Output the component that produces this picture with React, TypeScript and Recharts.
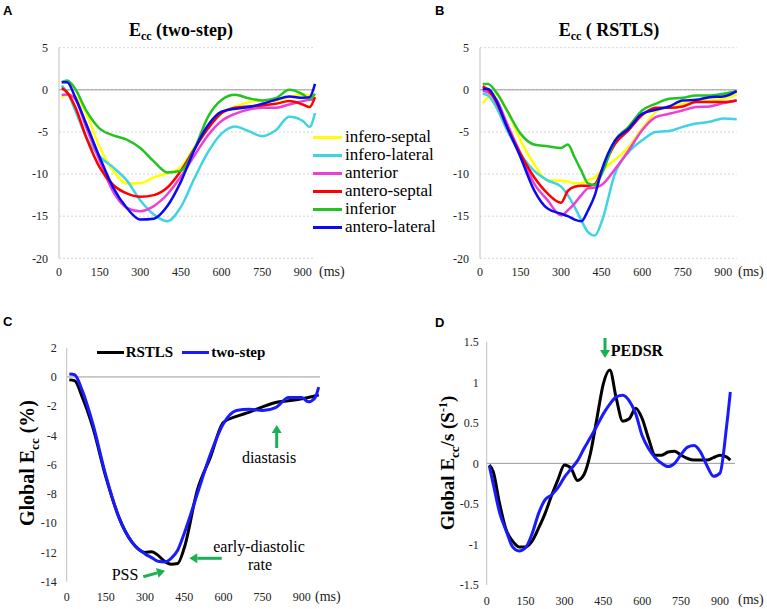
import { LineChart, Line, XAxis, YAxis, CartesianGrid, ReferenceLine, Legend } from 'recharts';

const SERIF = '"Liberation Serif", "Times New Roman", serif';
const SANS = '"Liberation Sans", Arial, sans-serif';
const GREEN_ARROW = '#1bb055';

const MS_TICKS = [0, 150, 300, 450, 600, 750, 900];
const STRAIN_TICKS = [-20, -15, -10, -5, 0, 5];
const GLOBAL_TICKS = [-14, -12, -10, -8, -6, -4, -2, 0, 2];
const RATE_TICKS = [-1.5, -1, -0.5, 0, 0.5, 1, 1.5];

const SEGMENTS = ['infero-septal', 'infero-lateral', 'anterior', 'antero-septal', 'inferior', 'antero-lateral'];
const SEGMENT_COLORS = ['#ffff00', '#3fd3e6', '#ec3fd6', '#ff0000', '#22c322', '#0a0af0'];
const METHODS = ['RSTLS', 'two-step'];
const METHOD_COLORS = ['#000000', '#1a1aff'];

// panel A: two-step, segmental Ecc (%)
const TIME_A = [10, 30, 60, 100, 150, 200, 250, 300, 350, 400, 450, 500, 550, 600, 650, 700, 750, 800, 850, 900, 925, 945];
const A_INFERO_SEPTAL = [-0.9, -0.6, -0.8, -2.8, -6.8, -9.6, -11.1, -11.1, -10.4, -9.9, -9.2, -6.8, -4.4, -2.85, -2.0, -1.46, -1.26, -1.26, -0.87, -0.55, -0.67, -0.87];
const A_INFERO_LATERAL = [0.5, -0.28, -2.45, -5.6, -7.9, -9.2, -10.75, -13.1, -14.8, -15.6, -13.9, -10.5, -7.4, -5.2, -4.35, -4.9, -5.5, -4.8, -3.2, -3.7, -4.4, -2.75];
const A_ANTERIOR = [-0.6, -0.55, -1.1, -4.4, -8.4, -12.1, -14.0, -14.4, -13.8, -12.4, -10.3, -7.8, -5.4, -3.7, -2.85, -2.33, -2.13, -2.13, -1.74, -1.34, -1.19, -1.1];
const A_ANTERO_SEPTAL = [0.2, -0.3, -2.05, -5.6, -9.2, -11.3, -12.3, -12.7, -12.5, -11.6, -9.6, -7.0, -4.6, -2.75, -2.13, -1.98, -1.86, -1.66, -1.34, -1.74, -2.05, -0.87];
const A_INFERIOR = [0.9, 1.1, 0.1, -2.45, -4.6, -5.4, -5.9, -6.9, -8.5, -9.8, -9.6, -7.0, -3.2, -1.2, -0.6, -1.0, -1.26, -1.0, 0, -0.55, -1.07, -0.47];
const A_ANTERO_LATERAL = [0.9, 0.9, -0.9, -4.0, -8.0, -11.6, -14.0, -15.4, -15.3, -13.8, -10.9, -7.1, -4.2, -2.6, -2.25, -2.05, -1.66, -1.19, -0.8, -0.95, -0.87, 0.7];

// panel B: RSTLS, segmental Ecc (%)
const TIME_B = [10, 30, 60, 100, 150, 200, 250, 300, 325, 350, 375, 400, 425, 450, 500, 550, 600, 650, 700, 750, 800, 850, 900, 950];
const B_INFERO_SEPTAL = [-1.6, -0.9, -0.5, -2.5, -6.0, -8.8, -10.75, -10.8, -10.9, -11.1, -11.1, -10.75, -10.4, -9.6, -8.3, -6.8, -4.6, -2.65, -1.98, -1.66, -1.38, -1.26, -1.07, -0.55];
const B_INFERO_LATERAL = [-0.47, -0.67, -2.05, -4.8, -7.6, -9.6, -10.75, -11.5, -12.5, -13.9, -15.5, -16.9, -17.3, -15.7, -9.9, -7.4, -6.0, -5.0, -4.9, -4.4, -4.0, -3.8, -3.4, -3.5];
const B_ANTERIOR = [-0.1, -0.3, -1.1, -4.0, -7.6, -11.1, -13.1, -14.9, -14.3, -13.5, -12.5, -11.7, -11.6, -11.3, -9.4, -7.2, -4.8, -3.25, -2.85, -2.45, -2.05, -1.98, -1.58, -1.26];
const B_ANTERO_SEPTAL = [0.4, 0, -1.46, -4.4, -7.6, -10.35, -12.3, -13.4, -12.0, -11.5, -11.4, -11.4, -11.2, -9.6, -6.4, -4.8, -3.0, -2.13, -2.13, -1.98, -1.46, -1.46, -1.46, -1.26];
const B_INFERIOR = [0.7, 0.7, -0.3, -2.45, -5.2, -6.5, -6.7, -6.9, -6.5, -8.0, -9.6, -11.1, -11.3, -10.0, -6.0, -4.4, -2.45, -1.66, -1.07, -0.95, -0.67, -0.67, -0.47, -0.16];
const B_ANTERO_LATERAL = [0.1, 0.1, -1.26, -4.4, -8.0, -11.9, -14.1, -14.7, -15.0, -15.4, -15.6, -14.3, -12.5, -9.6, -6.0, -4.6, -2.85, -2.37, -1.98, -1.26, -1.19, -0.87, -0.8, -0.16];

// panel C: global Ecc (%)
const TIME_C = [10, 30, 60, 100, 150, 200, 250, 300, 325, 350, 375, 400, 425, 450, 500, 550, 600, 650, 700, 750, 800, 850, 900, 925, 950, 965];
const C_RSTLS = [-0.2, -0.25, -1.4, -3.45, -6.85, -9.6, -11.3, -12.0, -11.95, -12.2, -12.6, -12.8, -12.75, -11.7, -7.75, -5.5, -3.1, -2.7, -2.4, -2.05, -1.75, -1.63, -1.5, -1.4, -1.3, -1.22];
const C_TWO_STEP = [0.2, 0.15, -0.95, -3.2, -6.75, -9.6, -11.3, -12.1, -12.35, -12.6, -12.65, -12.4, -11.85, -10.7, -8.0, -5.3, -3.2, -2.3, -2.2, -2.3, -2.1, -1.4, -1.4, -1.7, -1.45, -0.7];

// panel D: global Ecc strain rate (1/s)
const TIME_D = [10, 25, 50, 75, 100, 125, 150, 175, 200, 225, 250, 275, 300, 325, 350, 375, 400, 425, 450, 475, 500, 525, 550, 575, 600, 625, 650, 675, 700, 725, 750, 775, 800, 825, 850, 875, 900, 925, 940];
const D_RSTLS = [-0.02, -0.1, -0.5, -0.82, -0.96, -1.03, -1.03, -0.96, -0.8, -0.62, -0.4, -0.2, -0.02, -0.06, -0.21, -0.14, 0.12, 0.55, 0.98, 1.15, 0.8, 0.52, 0.55, 0.68, 0.55, 0.3, 0.1, 0.1, 0.14, 0.15, 0.1, 0.06, 0.04, 0.04, 0.04, 0.07, 0.1, 0.08, 0.04];
const D_TWO_STEP = [-0.03, -0.25, -0.61, -0.83, -1.03, -1.08, -1.04, -0.87, -0.62, -0.45, -0.39, -0.3, -0.17, -0.07, 0.03, 0.18, 0.32, 0.46, 0.61, 0.73, 0.82, 0.84, 0.77, 0.61, 0.34, 0.18, 0.07, 0, -0.04, 0, 0.11, 0.2, 0.22, 0.14, -0.03, -0.16, -0.12, 0.44, 0.88];

const rowsOf = (times: number[], cols: number[][]) =>
  times.map((t, i) => {
    const row: any = { ms: t };
    cols.forEach((c, j) => { row[`s${j}`] = c[i]; });
    return row;
  });

const dataA = rowsOf(TIME_A, [A_INFERO_SEPTAL, A_INFERO_LATERAL, A_ANTERIOR, A_ANTERO_SEPTAL, A_INFERIOR, A_ANTERO_LATERAL]);
const dataB = rowsOf(TIME_B, [B_INFERO_SEPTAL, B_INFERO_LATERAL, B_ANTERIOR, B_ANTERO_SEPTAL, B_INFERIOR, B_ANTERO_LATERAL]);
const dataC = rowsOf(TIME_C, [C_RSTLS, C_TWO_STEP]);
const dataD = rowsOf(TIME_D, [D_RSTLS, D_TWO_STEP]);

const tickStyle = { fontFamily: SERIF, fontSize: 12, fill: '#222' };

// legends keep the series order (recharts sorts payload by name otherwise)
const renderSegmentLegend = () => (
  <div style={{ fontFamily: SERIF, fontSize: 17, color: '#000' }}>
    {SEGMENTS.map((name, i) => (
      <div key={name} style={{ display: 'flex', alignItems: 'center', height: 18, whiteSpace: 'nowrap' }}>
        <span style={{ display: 'inline-block', width: 29, height: 3, background: SEGMENT_COLORS[i], marginRight: 3 }} />
        <span style={{ lineHeight: '18px' }}>{name}</span>
      </div>
    ))}
  </div>
);

const renderGlobalLegend = () => (
  <div style={{ display: 'flex', fontFamily: SERIF, fontSize: 15, fontWeight: 'bold', color: '#000' }}>
    {METHODS.map((name, i) => (
      <div key={name} style={{ display: 'flex', alignItems: 'center', height: 18, marginRight: 9, whiteSpace: 'nowrap' }}>
        <span style={{ display: 'inline-block', width: 27, height: 3, background: METHOD_COLORS[i], marginRight: 2 }} />
        <span style={{ lineHeight: '18px' }}>{name}</span>
      </div>
    ))}
  </div>
);

function Arrow({ x1, y1, x2, y2 }: { x1: number; y1: number; x2: number; y2: number }) {
  const len = Math.hypot(x2 - x1, y2 - y1);
  const ux = (x2 - x1) / len;
  const uy = (y2 - y1) / len;
  const bx = x2 - ux * 8;
  const by = y2 - uy * 8;
  return (
    <g>
      <line x1={x1} y1={y1} x2={bx} y2={by} stroke={GREEN_ARROW} strokeWidth={3} />
      <polygon points={`${x2},${y2} ${bx - uy * 5},${by + ux * 5} ${bx + uy * 5},${by - ux * 5}`} fill={GREEN_ARROW} />
    </g>
  );
}

function SegmentPanel({ data, maxMs, margin, legend }: any) {
  return (
    <LineChart width={legend ? 450 : 387} height={290} data={data} margin={margin}>
      <CartesianGrid vertical={false} stroke="#d4d4d4" strokeDasharray="2 2" />
      <XAxis dataKey="ms" type="number" domain={[0, maxMs]} ticks={MS_TICKS} axisLine={false} tickLine={false} tick={tickStyle} tickMargin={3} height={25} />
      <YAxis type="number" domain={[-20, 5]} ticks={STRAIN_TICKS} axisLine={{ stroke: '#bfbfbf' }} tickLine={false} tick={tickStyle} tickMargin={5} width={40} />
      <ReferenceLine y={0} stroke="#999" strokeWidth={1} />
      {SEGMENTS.map((name, i) => (
        <Line key={name} type="monotone" dataKey={`s${i}`} name={name} stroke={SEGMENT_COLORS[i]} strokeWidth={2.5} dot={false} activeDot={false} isAnimationActive={false} />
      ))}
      {legend && (
        <Legend layout="horizontal" verticalAlign="middle" align="center" wrapperStyle={{ left: 313, top: 128, width: 140 }} content={renderSegmentLegend} />
      )}
    </LineChart>
  );
}

export default function App() {
  return (
    <div style={{ position: 'absolute', left: 0, top: 0, width: 767, height: 609, background: '#fff', fontFamily: SERIF }}>
      <div style={{ position: 'absolute', left: 0, top: 0 }}>
        <SegmentPanel data={dataA} maxMs={943} margin={{ top: 47.7, right: 135, bottom: 6.7, left: 19 }} legend />
      </div>
      <div style={{ position: 'absolute', left: 380, top: 0 }}>
        <SegmentPanel data={dataB} maxMs={950} margin={{ top: 47.7, right: 30.3, bottom: 6.7, left: 60 }} />
      </div>
      <div style={{ position: 'absolute', left: 0, top: 300 }}>
        <LineChart width={380} height={309} data={dataC} margin={{ top: 47.7, right: 60, bottom: 2.3, left: 26.7 }}>
          <XAxis dataKey="ms" type="number" domain={[0, 970]} ticks={MS_TICKS} axisLine={false} tickLine={false} tick={tickStyle} tickMargin={5} height={25} />
          <YAxis type="number" domain={[-14, 2]} ticks={GLOBAL_TICKS} axisLine={{ stroke: '#bfbfbf' }} tickLine={false} tick={tickStyle} tickMargin={4} width={40} />
          <ReferenceLine y={0} stroke="#999" strokeWidth={1} />
          {METHODS.map((name, i) => (
            <Line key={name} type="monotone" dataKey={`s${i}`} name={name} stroke={METHOD_COLORS[i]} strokeWidth={3} dot={false} activeDot={false} isAnimationActive={false} />
          ))}
          <Legend layout="horizontal" verticalAlign="middle" align="center" wrapperStyle={{ left: 96.7, top: 43, width: 200 }} content={renderGlobalLegend} />
        </LineChart>
      </div>
      <div style={{ position: 'absolute', left: 390, top: 300 }}>
        <LineChart width={377} height={309} data={dataD} margin={{ top: 41.7, right: 32, bottom: 4, left: 56.7 }}>
          <XAxis dataKey="ms" type="number" domain={[0, 958]} ticks={MS_TICKS} axisLine={false} tickLine={false} tick={tickStyle} tickMargin={5} height={20} />
          <YAxis type="number" domain={[-1.5, 1.5]} ticks={RATE_TICKS} axisLine={{ stroke: '#bfbfbf' }} tickLine={false} tick={tickStyle} tickMargin={2} width={40} />
          <ReferenceLine y={0} stroke="#999" strokeWidth={1} />
          {METHODS.map((name, i) => (
            <Line key={name} type="monotone" dataKey={`s${i}`} name={name} stroke={METHOD_COLORS[i]} strokeWidth={3} dot={false} activeDot={false} isAnimationActive={false} />
          ))}
        </LineChart>
      </div>

      <svg width={767} height={609} style={{ position: 'absolute', left: 0, top: 0, pointerEvents: 'none' }}>
        <g fontFamily={SANS} fontWeight="bold" fontSize={13} fill="#000">
          <text x={3} y={15}>A</text>
          <text x={435} y={15}>B</text>
          <text x={3} y={326}>C</text>
          <text x={435} y={327}>D</text>
        </g>
        <g fontFamily={SERIF} fontWeight="bold" fontSize={18} fill="#000" textAnchor="middle">
          <text x={181} y={36}>E<tspan fontSize={12} dy={4}>cc</tspan><tspan dy={-4}> (two-step)</tspan></text>
          <text x={609} y={36}>E<tspan fontSize={12} dy={4}>cc</tspan><tspan dy={-4}> ( RSTLS)</tspan></text>
        </g>
        <g fontFamily={SERIF} fontSize={14} fill="#222">
          <text x={319} y={276}>(ms)</text>
          <text x={738} y={276}>(ms)</text>
          <text x={315} y={601}>(ms)</text>
          <text x={738} y={604}>(ms)</text>
        </g>
        <g fontFamily={SERIF} fontWeight="bold" fill="#000" textAnchor="middle">
          <text x={34} y={463} fontSize={20} transform="rotate(-90, 34, 463)">
            Global E<tspan fontSize={13} dy={5}>cc</tspan><tspan dy={-5}>{'  (%)'}</tspan>
          </text>
          <text x={454} y={463} fontSize={19} transform="rotate(-90, 454, 463)">
            Global E<tspan fontSize={13} dy={5}>cc</tspan><tspan dy={-5}>/s (S</tspan><tspan fontSize={12} dy={-7}>-1</tspan><tspan dy={7}>)</tspan>
          </text>
        </g>
        <g fontFamily={SERIF} fontSize={16} fill="#000">
          <text x={269} y={463} textAnchor="middle">diastasis</text>
          <text x={259} y={552} textAnchor="middle">early-diastolic</text>
          <text x={260} y={570} textAnchor="middle">rate</text>
          <text x={111.7} y={580}>PSS</text>
          <text x={610.7} y={356} fontWeight="bold">PEDSR</text>
        </g>
        <Arrow x1={276.7} y1={448} x2={276.7} y2={425} />
        <Arrow x1={221.7} y1={558.3} x2={189.3} y2={558.3} />
        <Arrow x1={143.3} y1={576.7} x2={165} y2={570.7} />
        <Arrow x1={605} y1={338} x2={605} y2={358} />
      </svg>
    </div>
  );
}
